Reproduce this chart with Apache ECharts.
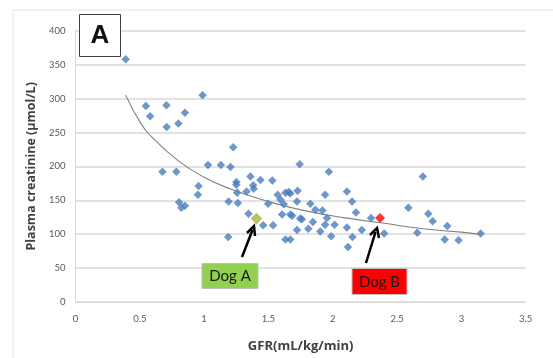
<!DOCTYPE html>
<html><head><meta charset="utf-8">
<script src="https://cdn.jsdelivr.net/npm/echarts@6/dist/echarts.min.js"></script>
<style>html,body{margin:0;padding:0;background:#fff}#c{width:553px;height:358px}</style>
</head><body><div id="c"></div>
<script>
const gfr = [0.39,0.547,0.58,0.707,0.709,0.80,0.851,0.988,1.226,0.676,0.784,1.03,1.13,1.205,0.957,0.952,0.805,0.823,0.851,1.19,1.262,1.187,1.743,1.97,2.70,1.36,1.438,1.53,1.25,1.25,1.381,1.386,1.33,1.257,1.727,1.572,1.632,1.657,1.67,1.593,1.722,1.497,1.62,1.826,1.865,1.92,1.94,2.11,2.15,2.18,2.588,2.743,1.345,1.606,1.67,1.684,1.748,1.76,1.846,1.955,1.94,2.014,2.298,1.459,1.536,1.722,1.81,1.903,1.988,2.11,2.226,2.153,2.118,2.40,2.657,2.777,2.89,2.87,2.978,3.15,1.632,1.67];
const creatinine = [358,289,274,290,258,263,279,305,228,192,192,202,202,199,171,158,147,139,142,148,146,96,203,192,185,185,180,179,177,173,172,167,163,161,164,158,161,162,160,151,148,145,144,145,136,135,158,163,148,132,139,130,130,129,129,127,123,122,118,124,114,114,124,113,113,106,108,104,97,110,106,96,81,101,102,119,112,92,91,101,92,92];
const dogA = [1.407, 123];
const dogB = [2.368, 124];
const trendX = [0.39,0.5,0.6,0.8,1.0,1.2,1.5,1.8,2.1,2.4,2.7,3.0,3.14];
const trendY = [305,266,242,208,184,167,148,134,124,116,108,103,100];
const xTicks = [0,0.5,1,1.5,2,2.5,3,3.5];
const yTicks = [0,50,100,150,200,250,300,350,400];

const chart = echarts.init(document.getElementById('c'));
const F = 'Lato, "Open Sans", sans-serif';
const T = '"Open Sans", Lato, sans-serif';
chart.setOption({
  animation:false,
  grid:{left:75.5,right:27.3,top:30.7,bottom:55.3},
  xAxis:{type:'value',min:xTicks[0],max:xTicks[xTicks.length-1],interval:0.5,
    name:'GFR(mL/kg/min)',nameLocation:'middle',nameGap:38,
    nameTextStyle:{fontFamily:T,fontWeight:'bold',fontSize:13,color:'#404040'},
    axisLine:{lineStyle:{color:'#d9d9d9',width:1}},axisTick:{show:false},
    axisLabel:{fontFamily:F,fontSize:9.5,color:'#595959',margin:12},
    splitLine:{show:false}},
  yAxis:{type:'value',min:yTicks[0],max:yTicks[yTicks.length-1],interval:50,
    name:'Plasma creatinine (µmol/L)',nameLocation:'middle',nameGap:28,
    nameTextStyle:{fontFamily:T,fontWeight:'bold',fontSize:12.5,color:'#404040'},
    axisLine:{show:true,lineStyle:{color:'#d9d9d9',width:1}},axisTick:{show:false},
    axisLabel:{fontFamily:F,fontSize:9.5,color:'#595959',margin:10},
    splitLine:{lineStyle:{color:'#d9d9d9',width:1.5}}},
  series:[
    {type:'line',data:trendX.map((x,i)=>[x,trendY[i]]),smooth:true,symbol:'none',
     lineStyle:{color:'#808080',width:1.1},z:3},
    {type:'scatter',data:gfr.map((x,i)=>[x,creatinine[i]]),symbol:'diamond',symbolSize:8.5,
     itemStyle:{color:'#4a7ebb'},z:4},
    {type:'scatter',data:[dogA],symbol:'diamond',symbolSize:10,
     itemStyle:{color:'#8dc63f',borderColor:'#f79646',borderWidth:1.2},z:5},
    {type:'scatter',data:[dogB],symbol:'diamond',symbolSize:10,
     itemStyle:{color:'#ff0000'},z:5}
  ],
  graphic:[
    {type:'line',shape:{x1:13,y1:10,x2:553,y2:10},style:{stroke:'#e3e3e3',lineWidth:1}},
    {type:'line',shape:{x1:13,y1:10,x2:13,y2:358},style:{stroke:'#e3e3e3',lineWidth:1}},
    {type:'rect',shape:{x:79.5,y:14.5,width:41,height:42},style:{fill:'#fff',stroke:'#404040',lineWidth:1},z:10},
    {type:'text',x:100,y:36,style:{text:'A',fontFamily:'Liberation Sans, Arial',fontWeight:'bold',fontSize:26,fill:'#111',align:'center',verticalAlign:'middle'},z:11},
    {type:'rect',shape:{x:202,y:263.5,width:56,height:25},style:{fill:'#92d050',stroke:'#bfbfbf',lineWidth:1},z:10},
    {type:'text',x:230,y:276.5,style:{text:'Dog A',fontFamily:F,fontSize:15,fill:'#1a1a1a',align:'center',verticalAlign:'middle'},z:11},
    {type:'rect',shape:{x:352,y:268.5,width:55,height:26},style:{fill:'#ff0000',stroke:'#bfbfbf',lineWidth:1},z:10},
    {type:'text',x:379.5,y:282,style:{text:'Dog B',fontFamily:F,fontSize:15,fill:'#1a1a1a',align:'center',verticalAlign:'middle'},z:11},
    {type:'line',shape:{x1:242,y1:257,x2:252.5,y2:230},style:{stroke:'#000',lineWidth:2.5},z:11},
    {type:'polyline',shape:{points:[[247,233],[254,226],[255,236]]},style:{stroke:'#000',lineWidth:2.5,fill:null},z:11},
    {type:'line',shape:{x1:366,y1:263,x2:375.5,y2:232},style:{stroke:'#000',lineWidth:2.5},z:11},
    {type:'polyline',shape:{points:[[370,235],[377,228],[379,238]]},style:{stroke:'#000',lineWidth:2.5,fill:null},z:11}
  ]
});
</script></body></html>
